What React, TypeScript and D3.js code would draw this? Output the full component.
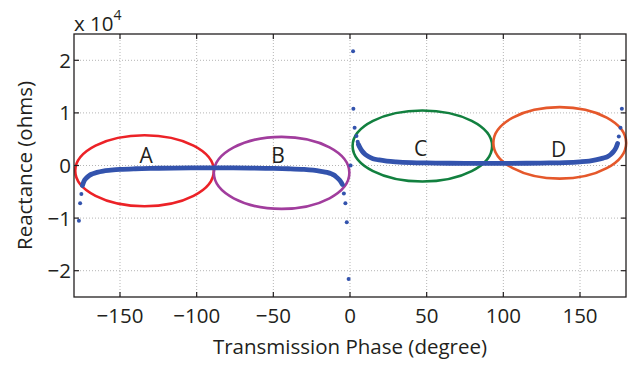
import React, { useEffect, useRef } from "react";
import * as d3 from "d3";

// phase in degrees, reactance in ohms
const negCurvePhase = [-174.5, -173.5, -172, -170, -168, -165, -161, -156, -150, -140, -130, -115, -100, -90, -80, -65, -50, -40, -30, -24, -19, -15, -12, -10, -8.5, -7, -6, -5];
const negCurveX = [-3800, -3000, -2400, -1900, -1600, -1300, -1050, -900, -750, -620, -550, -500, -460, -450, -460, -500, -550, -620, -750, -900, -1100, -1300, -1600, -1900, -2300, -2700, -3100, -3600];

const posCurvePhase = [5.5, 6.5, 8, 10, 12, 15, 19, 24, 30, 40, 50, 65, 80, 90, 100, 115, 130, 140, 150, 156, 161, 165, 168, 170, 172, 173.5, 174.5];
const posCurveX = [4000, 3400, 2700, 2100, 1700, 1300, 1050, 850, 700, 550, 480, 430, 400, 400, 400, 430, 480, 550, 700, 850, 1100, 1400, 1700, 2100, 2700, 3400, 4200];

// isolated samples near the poles
const loosePhase = [-176.8, -176, -175.2, -4, -3, -2.1, -0.9, 0.4, 2, 2.2, 3, 4.2, 5, 175.3, 176.4, 177.3];
const looseX = [-10500, -7200, -5400, -5300, -7200, -10800, -21600, 0, 21700, 10800, 7200, 5600, 4500, 5500, 7200, 10800];

const xTicks = [-150, -100, -50, 0, 50, 100, 150];
const yTicks = [-20000, -10000, 0, 10000, 20000];

// annotation ellipses: label, centre phase, centre reactance, half width (deg), half height (ohms)
const regionLabels = ["A", "B", "C", "D"];
const regionCx = [-134, -44.6, 47.2, 136.8];
const regionCy = [-1000, -1400, 3700, 4300];
const regionRx = [45.2, 44.2, 45.5, 43.3];
const regionRy = [6750, 6850, 6750, 6800];
const regionLabelX = [-133, -47, 46, 136];
const regionLabelY = [550, 550, 1900, 1700];
const regionColors = ["#ec2227", "#a13d9d", "#12803f", "#e5582b"];

const W = 636;
const H = 366;

const App: React.FC = () => {
  const ref = useRef<SVGSVGElement | null>(null);

  useEffect(() => {
    if (!ref.current) return;
    const svg = d3.select(ref.current);
    svg.selectAll("*").remove();

    const margin = { top: 34, right: 10, bottom: 69, left: 74 };
    const iw = W - margin.left - margin.right;
    const ih = H - margin.top - margin.bottom;
    const font = "'Open Sans', 'Noto Sans', sans-serif";
    const fs = "20.5px";
    const ink = "#231f20";
    const dotColor = "#3353ad";

    const x = d3.scaleLinear().domain([-180, 180]).range([0, iw]);
    const y = d3.scaleLinear().domain([-25000, 25000]).range([ih, 0]);

    const g = svg
      .append("g")
      .attr("transform", `translate(${margin.left},${margin.top})`);

    // grid
    const grid = g.append("g").attr("stroke", "#b5b5b5").attr("stroke-width", 1).attr("stroke-dasharray", "1,2");
    xTicks.forEach((t) => {
      grid.append("line").attr("x1", x(t)).attr("x2", x(t)).attr("y1", 0).attr("y2", ih);
    });
    yTicks.forEach((t) => {
      grid.append("line").attr("x1", 0).attr("x2", iw).attr("y1", y(t)).attr("y2", y(t));
    });

    // ellipses
    regionLabels.forEach((lab, i) => {
      const cx = x(regionCx[i]);
      const cy = y(regionCy[i]);
      g.append("ellipse")
        .attr("cx", cx)
        .attr("cy", cy)
        .attr("rx", x(regionCx[i] + regionRx[i]) - cx)
        .attr("ry", y(0) - y(regionRy[i]))
        .attr("fill", "none")
        .attr("stroke", regionColors[i])
        .attr("stroke-width", 2.6);
    });

    // dense curves
    const line = d3
      .line<[number, number]>()
      .x((d) => x(d[0]))
      .y((d) => y(d[1]))
      .curve(d3.curveMonotoneX);

    [
      negCurvePhase.map((p, i) => [p, negCurveX[i]] as [number, number]),
      posCurvePhase.map((p, i) => [p, posCurveX[i]] as [number, number]),
    ].forEach((pts) => {
      g.append("path")
        .attr("d", line(pts))
        .attr("fill", "none")
        .attr("stroke", dotColor)
        .attr("stroke-width", 4.8)
        .attr("stroke-linecap", "round");
    });

    g.append("g")
      .selectAll("circle")
      .data(loosePhase.map((p, i) => [p, looseX[i]]))
      .join("circle")
      .attr("cx", (d) => x(d[0]))
      .attr("cy", (d) => y(d[1]))
      .attr("r", 2)
      .attr("fill", dotColor);

    // region letters
    regionLabels.forEach((lab, i) => {
      g.append("text")
        .attr("x", x(regionLabelX[i]))
        .attr("y", y(regionLabelY[i]))
        .attr("text-anchor", "middle")
        .style("font-family", font)
        .style("font-size", "21px")
        .attr("fill", ink)
        .text(lab);
    });

    // box
    g.append("rect")
      .attr("width", iw)
      .attr("height", ih)
      .attr("fill", "none")
      .attr("stroke", ink)
      .attr("stroke-width", 1.3);

    // ticks (inward, both sides)
    const tk = g.append("g").attr("stroke", ink).attr("stroke-width", 1.2);
    xTicks.forEach((t) => {
      tk.append("line").attr("x1", x(t)).attr("x2", x(t)).attr("y1", ih).attr("y2", ih - 5);
      tk.append("line").attr("x1", x(t)).attr("x2", x(t)).attr("y1", 0).attr("y2", 5);
    });
    yTicks.forEach((t) => {
      tk.append("line").attr("x1", 0).attr("x2", 5).attr("y1", y(t)).attr("y2", y(t));
      tk.append("line").attr("x1", iw).attr("x2", iw - 5).attr("y1", y(t)).attr("y2", y(t));
    });

    const fmt = (v: number) => (v < 0 ? `\u2212${Math.abs(v)}` : `${v}`);

    xTicks.forEach((t) => {
      g.append("text")
        .attr("x", x(t))
        .attr("y", ih + 26)
        .attr("text-anchor", "middle")
        .style("font-family", font)
        .style("font-size", fs)
        .attr("fill", ink)
        .text(fmt(t));
    });
    yTicks.forEach((t) => {
      g.append("text")
        .attr("x", -3)
        .attr("y", y(t) + 7.5)
        .attr("text-anchor", "end")
        .style("font-family", font)
        .style("font-size", fs)
        .attr("fill", ink)
        .text(fmt(t / 10000));
    });

    // exponent
    const ex = g.append("text")
      .attr("x", 0)
      .attr("y", -3)
      .style("font-family", font)
      .style("font-size", fs)
      .attr("fill", ink);
    ex.append("tspan").text("x 10");
    ex.append("tspan").attr("dy", -11).style("font-size", "14px").text("4");

    // axis titles
    g.append("text")
      .attr("x", iw / 2)
      .attr("y", ih + 57)
      .attr("text-anchor", "middle")
      .style("font-family", font)
      .style("font-size", fs)
      .attr("fill", ink)
      .text("Transmission Phase (degree)");

    g.append("text")
      .attr("transform", `translate(${-42},${ih / 2}) rotate(-90)`)
      .attr("text-anchor", "middle")
      .style("font-family", font)
      .style("font-size", fs)
      .attr("fill", ink)
      .text("Reactance (ohms)");
  }, []);

  return (
    <svg
      ref={ref}
      width={W}
      height={H}
      style={{ position: "absolute", left: 0, top: 0, background: "#fff" }}
    ></svg>
  );
};

export default App;
